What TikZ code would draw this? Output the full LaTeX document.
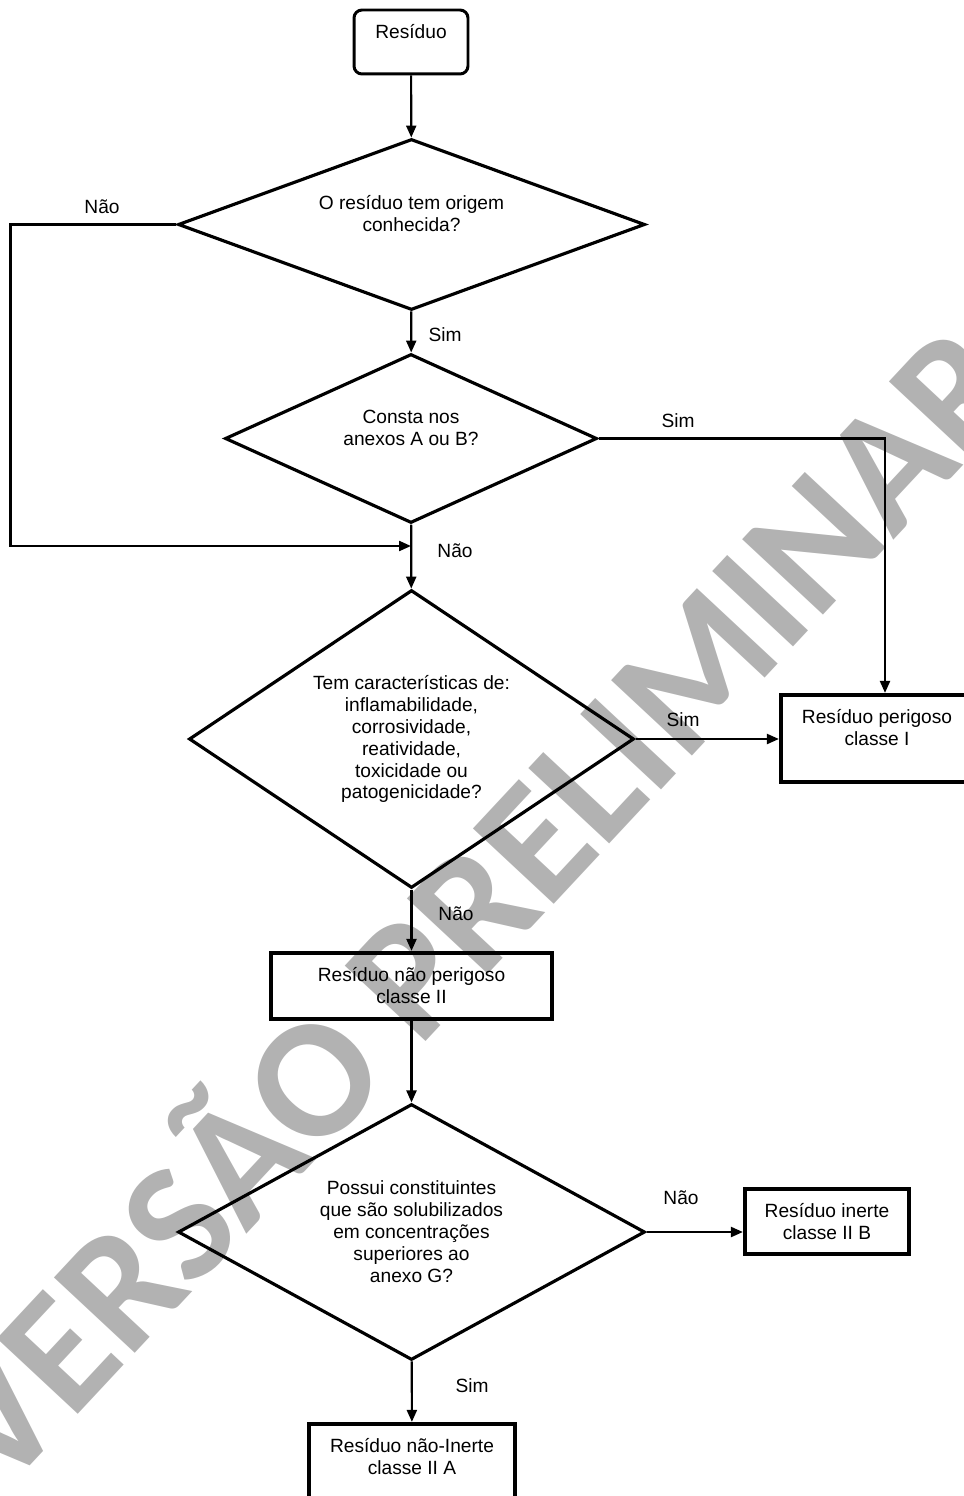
\documentclass[tikz,border=0pt]{standalone}
\usepackage{fontspec}
\setmainfont{Liberation Sans}
\newfontfamily\marcafont{Carlito}
\usetikzlibrary{shapes.geometric,arrows.meta}

\newcommand{\fluxofont}{\fontsize{10.9}{12.5}\selectfont}
\definecolor{marca}{RGB}{178,178,178}

\tikzset{
  inicio/.style = {rectangle, rounded corners=0.16cm, draw, line width=1.7pt,
    align=center, inner sep=0pt, font=\fluxofont},% terminal
  decisao/.style = {diamond, draw, line width=1.8pt, inner sep=0pt,
    align=center, font=\fluxofont},% losango de pergunta
  caixa/.style = {rectangle, draw, line width=2.4pt, inner sep=0pt,
    align=center, font=\fluxofont},% classe do residuo
  rotulo/.style = {inner sep=0pt, font=\fluxofont},% sim / nao
  seta/.style = {-{Triangle[length=2.4mm,width=2mm]}, line width=1.25pt}
}

\begin{document}
\begin{tikzpicture}[x=0.02cm, y=-0.02cm]
  \useasboundingbox (0,0) rectangle (963,1496);

  % marca d'agua
  \node [text=marca, font=\marcafont\bfseries\fontsize{97}{97}\selectfont,
    rotate=47, anchor=base, inner sep=0pt] (marca) at (516,945) {VERSÃO PRELIMINAR};

  \node [inicio, minimum width=2.28cm, minimum height=1.28cm] (res) at (411,42)
    {Resíduo\\ \mbox{}};
  \node [decisao, aspect=2.73, minimum width=9.34cm, minimum height=3.42cm] (orig) at (411.5,224.5)
    {O resíduo tem origem\\conhecida?\\ \mbox{}};
  \node [decisao, aspect=2.2, minimum width=7.44cm, minimum height=3.38cm] (anexo) at (411,438.5)
    {Consta nos\\anexos A ou B?\\ \mbox{}};
  \node [decisao, aspect=1.49, minimum width=8.9cm, minimum height=5.96cm] (carac) at (411.5,739)
    {Tem características de:\\inflamabilidade,\\corrosividade,\\reatividade,\\toxicidade ou\\patogenicidade?};
  \node [caixa, minimum width=3.84cm, minimum height=1.74cm] (classeI) at (877,738.5)
    {Resíduo perigoso\\classe I\\ \mbox{}};
  \node [caixa, minimum width=5.62cm, minimum height=1.32cm] (classeII) at (411.5,986)
    {Resíduo não perigoso\\classe II};
  \node [decisao, aspect=1.82, minimum width=9.34cm, minimum height=5.12cm] (solub) at (411.5,1232)
    {Possui constituintes\\que são solubilizados\\em concentrações\\superiores ao\\anexo G?};
  \node [caixa, minimum width=3.28cm, minimum height=1.3cm] (classeIIB) at (827,1221.5)
    {Resíduo inerte\\classe II B};
  \node [caixa, minimum width=4.12cm, minimum height=1.74cm] (classeIIA) at (412,1467.5)
    {Resíduo não-Inerte\\classe II A\\ \mbox{}};

  \coordinate (junta) at (411,546);

  \draw [seta] (res) -- (orig);
  \draw [seta] (orig) -- (anexo);
  \draw [seta] (orig.west) -- ++(-166,0) |- (junta);
  \draw [seta] (anexo) -- (carac);
  \draw [seta] (anexo.east) -| ([xshift=0.16cm]classeI.north);
  \draw [seta] (carac.east) -- (classeI.west |- carac.east);
  \draw [seta] (carac) -- (classeII);
  \draw [seta] (classeII) -- (solub);
  \draw [seta] (solub.east) -- (classeIIB.west |- solub.east);
  \draw [seta] (solub) -- (classeIIA);

  \node [rotulo] (nao1) at (102,207) {Não};
  \node [rotulo] (sim1) at (445,335) {Sim};
  \node [rotulo] (sim2) at (678,421) {Sim};
  \node [rotulo] (nao2) at (455,551) {Não};
  \node [rotulo] (sim3) at (683,720) {Sim};
  \node [rotulo] (nao3) at (456,914) {Não};
  \node [rotulo] (nao4) at (681,1198) {Não};
  \node [rotulo] (sim4) at (472,1386) {Sim};
\end{tikzpicture}
\end{document}
